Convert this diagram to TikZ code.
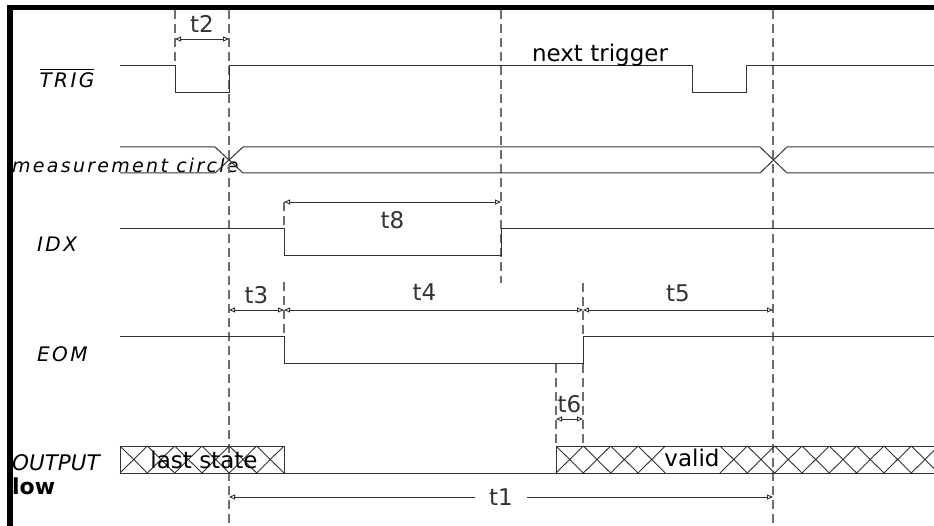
\documentclass[tikz,border=0pt]{standalone}
\usepackage{fontspec}
\setmainfont{DejaVu Sans}
\newfontfamily\sigfont[LetterSpace=12]{DejaVu Sans}
\usetikzlibrary{arrows.meta, positioning}
\definecolor{wavegray}{RGB}{50,50,50}
\definecolor{dashgray}{RGB}{110,110,110}
\newcommand\barred[1]{\setbox0\hbox{#1}\rlap{\rule[\dimexpr\ht0+3pt\relax]{\wd0}{1.3pt}}\box0}

\begin{document}
\begin{tikzpicture}[x=1pt, y=-1pt,
    wave/.style={wavegray, line width=1pt},
    guide/.style={dashgray, line width=1.2pt, dash pattern=on 9pt off 5pt},
    dim/.style={wavegray, line width=0.9pt,
      {Triangle[open,length=6pt,width=5pt]}-{Triangle[open,length=6pt,width=5pt]}},
    tlbl/.style={font=\fontsize{23}{27}\selectfont, inner sep=0pt},
    siglbl/.style={font=\sigfont\itshape\fontsize{20}{24}\selectfont, inner sep=0pt},
    hatch/.style={wavegray, line width=0.9pt}]
  \clip (0,0) rectangle (934,526);
  % frame
  \draw[line width=5.4pt] (10,540) |- (940,7.3);

  % signal names
  \node[siglbl, anchor=base] (trig) at (67,88) {\barred{TRIG}};
  \node[siglbl, anchor=base west, font=\sigfont\itshape\fontsize{19}{23}\selectfont] (meas) at (12,173) {measurement circle};
  \node[siglbl, anchor=base west] (idx) at (37,252) {IDX};
  \node[siglbl, anchor=base west] (eom) at (37,362) {EOM};
  \node[siglbl, anchor=base west, font=\itshape\fontsize{21.5}{25}\selectfont] (out) at (12,470) {OUTPUT};
  \node[tlbl, anchor=base west, font=\bfseries\fontsize{22}{26}\selectfont] (low) at (12,494) {low};

  % guide lines
  \draw[guide] (175,10) -- (175,66);
  \draw[guide] (229,10) -- (229,526);
  \draw[guide] (284,202) -- (284,229);
  \draw[guide] (284,282) -- (284,337);
  \draw[guide] (501,10) -- (501,283);
  \draw[guide] (583,283) -- (583,337);
  \draw[guide] (583,364) -- (583,446);
  \draw[guide] (556,364) -- (556,446);
  \draw[guide] (773,10) -- (773,526);

  % waveforms
  \draw[wave] (120,66) -| (175,93) -| (229,66) -| (692,93) -| (746,66) -- (940,66);
  \draw[wave] (120,147) -- (215,147) -- (243,173) -- (760,173) -- (787,147) -- (940,147);
  \draw[wave] (120,173) -- (215,173) -- (243,147) -- (760,147) -- (787,173) -- (940,173);
  \draw[wave] (120,229) -| (284,256) -| (501,229) -- (940,229);
  \draw[wave] (120,337) -| (284,364) -| (583,337) -- (940,337);
  \draw[wave] (120,446) rectangle (284,473);
  \draw[wave] (284,473) -- (556,473);
  \draw[wave] (940,446) -| (556,473) -- (940,473);
  \foreach \i in {0,...,5}
    \draw[hatch] ({120+27.33*\i},446) -- ++(27.33,27) ++(0,-27) -- ++(-27.33,27);
  \foreach \i in {0,1,2,3,6,7,...,13}
    \draw[hatch] ({556+27.33*\i},446) -- ++(27.33,27) ++(0,-27) -- ++(-27.33,27);
  \node[tlbl, anchor=base] (last) at (204,468) {last state};
  \node[tlbl, anchor=base] (valid) at (692,466) {valid};
  \node[tlbl, anchor=base] (nexttrig) at (600,62) {next trigger};

  % timing marks
  \coordinate (t2l) at (175,39);  \coordinate (t2r) at (229,39);
  \coordinate (t8l) at (284,202); \coordinate (t8r) at (501,202);
  \coordinate (t3l) at (229,310); \coordinate (t3r) at (284,310);
  \coordinate (t4r) at (583,310); \coordinate (t5r) at (773,310);
  \coordinate (t6l) at (556,419); \coordinate (t6r) at (583,419);
  \coordinate (t1l) at (229,497); \coordinate (t1r) at (773,497);
  \draw[dim] (t2l) -- node[tlbl, above=6pt] {t2} (t2r);
  \draw[dim] (t8l) -- node[tlbl, below=9pt] {t8} (t8r);
  \draw[dim] (t3l) -- node[tlbl, above=6pt] {t3} (t3r);
  \draw[dim] (t3r) -- node[tlbl, above=9pt, xshift=-9pt] {t4} (t4r);
  \draw[dim] (t4r) -- node[tlbl, above=8pt] {t5} (t5r);
  \draw[dim] (t6l) -- node[tlbl, above=6pt] {t6} (t6r);
  \draw[dim] (t1l) -- node[tlbl, fill=white, inner xsep=14pt, inner ysep=3pt] {t1} (t1r);
\end{tikzpicture}
\end{document}
